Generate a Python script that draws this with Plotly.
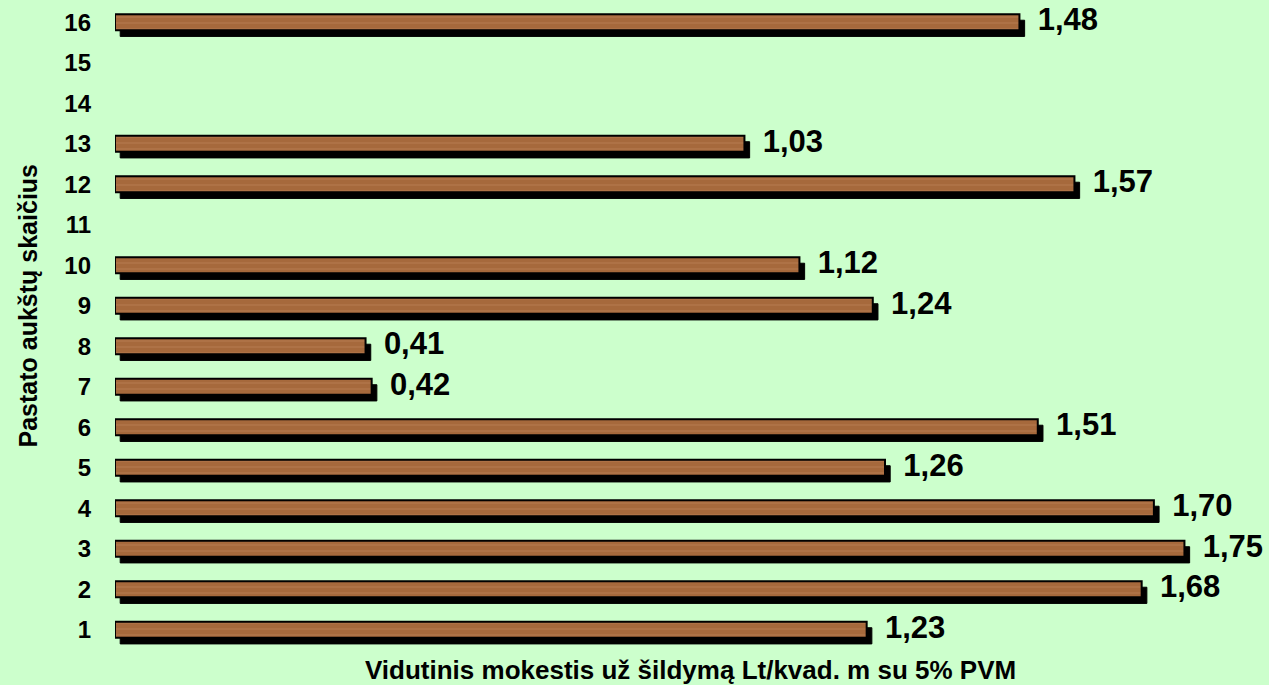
import plotly.graph_objects as go

floors = list(range(1, 17))
values = [1.23, 1.68, 1.75, 1.70, 1.26, 1.51, 0.42, 0.41, 1.24, 1.12, None, 1.57, 1.03, None, None, 1.48]
tick_labels = [str(f) for f in floors]

x_title = "Vidutinis mokestis už šildymą Lt/kvad. m su 5% PVM"
y_title = "Pastato aukštų skaičius"

bg = "#CCFFCC"
wood = "#A6693C"
font = "Liberation Sans, Arial, sans-serif"

# shadow offsets (in axis units)
dx = 0.0085
dy = 0.15
bar_w = 0.40

fx = [v for v in values if v is not None]
fy = [f for f, v in zip(floors, values) if v is not None]

fig = go.Figure()
fig.add_trace(go.Bar(
    x=fx, y=[f - dy for f in fy], base=dx, orientation="h", width=bar_w,
    marker=dict(color="black", line=dict(color="black", width=1)),
    hoverinfo="skip", showlegend=False))
fig.add_trace(go.Bar(
    x=fx, y=fy, orientation="h", width=bar_w,
    marker=dict(color=wood, line=dict(color="black", width=2),
                pattern=dict(shape="-", fgcolor="#B98358", size=6, solidity=0.25)),
    showlegend=False))
fig.add_trace(go.Scatter(
    x=[v + 0.03 for v in fx], y=fy, mode="text",
    text=[f"{v:.2f}".replace(".", ",") for v in fx],
    textposition="middle right",
    textfont=dict(family=font, size=31, color="black", weight="bold"),
    cliponaxis=False, showlegend=False, hoverinfo="skip"))

fig.update_layout(
    width=1269, height=685,
    paper_bgcolor=bg, plot_bgcolor=bg,
    barmode="overlay",
    margin=dict(l=115, r=54, t=2, b=35),
    font=dict(family=font, color="black"),
    xaxis=dict(range=[0, 1.8], showgrid=False, zeroline=False, showticklabels=False,
               showline=False, ticks=""),
    yaxis=dict(range=[0.5, 16.5], tickvals=floors, ticktext=tick_labels,
               showgrid=False, zeroline=False, showline=False, ticks="",
               tickfont=dict(size=24, weight="bold"), ticklabelstandoff=23),
    annotations=[
        dict(text=x_title, xref="paper", yref="paper", x=0.523, y=-0.0045,
             yanchor="top", xanchor="center", showarrow=False,
             font=dict(size=26, weight="bold")),
        dict(text=y_title, xref="paper", yref="paper", x=-0.0795, y=0.531,
             xanchor="center", yanchor="middle", textangle=-90, showarrow=False,
             font=dict(size=25, weight="bold")),
    ],
)

fig.write_html("out.html", config={"displayModeBar": False},
               post_script="document.body.style.margin='0';document.body.style.overflow='hidden';")
